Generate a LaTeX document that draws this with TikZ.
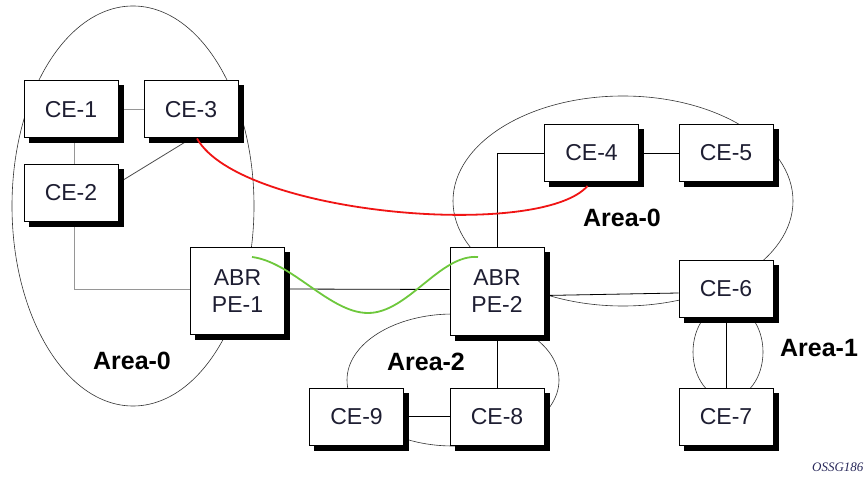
\documentclass[tikz,border=0pt]{standalone}
\usepackage{fontspec}
\setmainfont{Liberation Sans}
\newfontfamily\tagfont{Liberation Serif}
\pgfdeclarelayer{paper}
\pgfdeclarelayer{bg}
\pgfsetlayers{paper,bg,main}
\definecolor{txt}{RGB}{30,30,50}
\definecolor{redc}{RGB}{240,20,20}
\definecolor{greenc}{RGB}{110,200,60}
\definecolor{lgray}{RGB}{150,150,150}
\begin{document}
\begin{tikzpicture}[x=1pt,y=-1pt,
  box/.style={draw=black, line width=1pt, fill=white, minimum width=94pt, minimum height=57pt,
    inner sep=0pt, align=center, text=txt, font=\fontsize{23}{27}\selectfont},
  pebox/.style={box, minimum height=87pt},
  area/.style={draw=black!80, line width=0.6pt},
  arealabel/.style={font=\bfseries\fontsize{25}{28}\selectfont, text=black, inner sep=0pt},
  link/.style={draw=black, line width=0.8pt},
  glink/.style={draw=lgray, line width=1pt},
  shadowfill/.style={fill=black, draw=none},
]
\useasboundingbox (0,0) rectangle (867,478);
\begin{pgfonlayer}{paper}
\fill[white] (0,0) rectangle (867,478);
\end{pgfonlayer}
% nodes
\node[box] (ce1) at (71,109.5) {CE-1};
\node[box] (ce3) at (191,109.5) {CE-3};
\node[box] (ce2) at (71,193) {CE-2};
\node[pebox] (pe1) at (237.5,291) {ABR\\PE-1};
\node[pebox] (pe2) at (497,291.5) {ABR\\PE-2};
\node[box] (ce4) at (591.5,153) {CE-4};
\node[box] (ce5) at (726,153) {CE-5};
\node[box] (ce6) at (726,289) {CE-6};
\node[box] (ce7) at (726,416.5) {CE-7};
\node[box] (ce8) at (497,416.5) {CE-8};
\node[box] (ce9) at (356.5,416.5) {CE-9};
\begin{pgfonlayer}{bg}
% areas
\draw[area] (133,206) ellipse [x radius=121pt, y radius=200pt];
\draw[area] (623,201) ellipse [x radius=170pt, y radius=105pt];
\draw[area] (453,380) ellipse [x radius=106pt, y radius=66pt];
\draw[area] (728,352) ellipse [x radius=35pt, y radius=47pt];
% links
\path[glink] ([xshift=3pt]ce1.south) -- ([xshift=3pt]ce2.north);
\path[glink] (ce1.east) -- (ce3.west);
\path[glink] ([xshift=3pt]ce2.south) |- ([yshift=2pt]pe1.west);
\path[link, draw=black!70] (ce3.south) -- (ce2.12);
\path[link] ([yshift=2pt]pe1.east) -- ([yshift=2pt]pe2.west);
\path[link] (pe2.north) |- (ce4.west);
\path[link] (ce4.east) -- (ce5.west);
\path[link] ([yshift=-4pt]pe2.east) -- ([yshift=-4pt]ce6.west);
\path[link] (pe2.south) -- (ce8.north);
\path[link] (ce9.east) -- (ce8.west);
\path[link] (ce6.south) -- (ce7.north);
% shadows
\foreach \n in {ce1,ce2,ce3,ce4,ce5,ce6,ce7,ce8,ce9,pe1,pe2}
  \path[shadowfill] ([shift={(5,5)}]\n.north west) rectangle ([shift={(5,5)}]\n.south east);
\end{pgfonlayer}
% curves
\draw[redc, line width=1.8pt] ([xshift=6pt]ce3.south) .. controls (240,215) and (540,240) .. ([xshift=-4pt,yshift=-4pt]ce4.south);
\coordinate (g1) at (252,257);
\coordinate (g2) at (368,313);
\coordinate (g3) at (478,257);
\draw[greenc, line width=1.8pt] (g1) .. controls (292,262) and (330,313) .. (g2) .. controls (408,313) and (440,254) .. (g3);
% labels
\node[arealabel] (a0l) at (132,361) {Area-0};
\node[arealabel] (a0r) at (622,218) {Area-0};
\node[arealabel] (a2) at (426,362) {Area-2};
\node[arealabel] (a1) at (819,348) {Area-1};
\node[anchor=west, inner sep=0pt, text={rgb,255:red,40;green,40;blue,90}, font=\tagfont\itshape\fontsize{13}{15}\selectfont] (tag) at (812,467) {OSSG186};
\end{tikzpicture}
\end{document}
